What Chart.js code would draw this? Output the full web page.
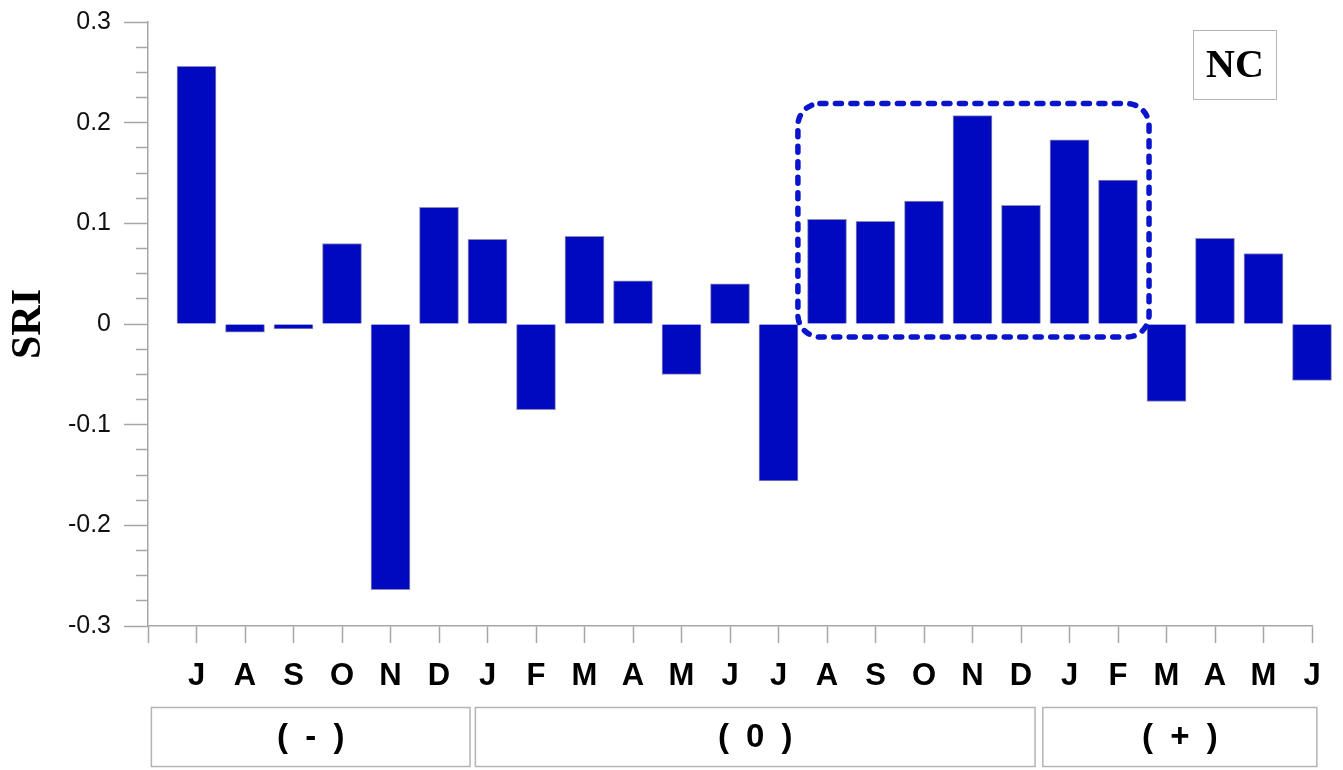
<!DOCTYPE html>
<html>
<head>
<meta charset="utf-8">
<script src="https://cdn.jsdelivr.net/npm/chart.js@4.4.1/dist/chart.umd.min.js"></script>
<style>
  html, body { margin: 0; padding: 0; background: #ffffff; }
  #wrap { width: 1343px; height: 770px; position: relative; }
</style>
</head>
<body>
<div id="wrap"><canvas id="c" width="1343" height="770"></canvas></div>
<script>
// Monthly categories (July to the following June, two years)
const months = ['J','A','S','O','N','D','J','F','M','A','M','J','J','A','S','O','N','D','J','F','M','A','M','J'];
// SRI value per month
const sri = [0.256, -0.008, -0.005, 0.080, -0.264, 0.116, 0.084, -0.085, 0.087, 0.043, -0.050, 0.040,
             -0.156, 0.104, 0.102, 0.122, 0.207, 0.118, 0.183, 0.143, -0.077, 0.085, 0.070, -0.056];
// Phase groups shown under the month axis
const phaseNames = ['( - )', '( 0 )', '( + )'];
const phaseFirst = [0, 6, 18];
const phaseLast = [5, 17, 23];
// Months enclosed by the dashed frame
const frameFirst = 13;
const frameLast = 19;
// Panel tag
const panelTag = 'NC';
// Axis range
const yMin = -0.3, yMax = 0.3, yMinorStep = 0.025;

// A blank leading slot keeps the first bar away from the value axis
const labels = [''].concat(months);
const values = [null].concat(sri);

const BAR_BLUE = '#0008c0';
const AXIS_GREY = '#a6a6a6';
const NARROW = "'Liberation Sans Narrow', 'Arial Narrow', 'Liberation Sans', Arial, sans-serif";

function isMajor(v) {
  return Math.abs(v * 10 - Math.round(v * 10)) < 1e-6;
}

const decorations = {
  id: 'decorations',
  afterDatasetsDraw(chart, args, opts) {
    const ctx = chart.ctx;
    const xs = chart.scales.x, ys = chart.scales.y;
    const step = xs.getPixelForValue(2) - xs.getPixelForValue(1);

    // dashed rounded frame around the highlighted months
    const inFrame = sri.slice(frameFirst, frameLast + 1);
    const left = xs.getPixelForValue(frameFirst + 1) - opts.framePadLeft * step;
    const right = xs.getPixelForValue(frameLast + 1) + opts.framePadRight * step;
    const top = ys.getPixelForValue(Math.max.apply(null, inFrame)) - opts.framePadTop;
    const bottom = ys.getPixelForValue(0) + opts.framePadBottom;
    ctx.save();
    ctx.strokeStyle = '#0a14cc';
    ctx.lineWidth = 5.5;
    ctx.lineCap = 'round';
    ctx.setLineDash([6, 9.5]);
    ctx.beginPath();
    ctx.roundRect(left, top, right - left, bottom - top, 22);
    ctx.stroke();
    ctx.restore();
  },
  afterDraw(chart, args, opts) {
    const ctx = chart.ctx;
    const xs = chart.scales.x;

    // phase boxes below the month labels
    ctx.save();
    ctx.strokeStyle = '#b4b4b4';
    ctx.lineWidth = 1.5;
    ctx.fillStyle = '#000';
    ctx.font = 'bold 33px ' + NARROW;
    ctx.letterSpacing = '4px';
    ctx.textAlign = 'center';
    ctx.textBaseline = 'middle';
    phaseNames.forEach((name, i) => {
      const l = xs.getPixelForValue(phaseFirst[i] + 1 + opts.phaseEdges[i][0]);
      const r = xs.getPixelForValue(phaseLast[i] + 1 + opts.phaseEdges[i][1]);
      ctx.strokeRect(l, opts.phaseTop, r - l, opts.phaseHeight);
      ctx.fillText(name, (l + r) / 2 + 2, opts.phaseTop + opts.phaseHeight / 2 + 1);
    });
    ctx.restore();

    // panel tag box
    ctx.save();
    ctx.strokeStyle = '#b4b4b4';
    ctx.lineWidth = 1;
    ctx.strokeRect(1193.5, 30.5, 83, 69);
    ctx.fillStyle = '#000';
    ctx.font = "bold 40px 'Liberation Serif', 'Times New Roman', serif";
    ctx.textAlign = 'center';
    ctx.textBaseline = 'middle';
    ctx.fillText(panelTag, 1235, 67);
    ctx.restore();
  }
};

new Chart(document.getElementById('c'), {
  type: 'bar',
  data: {
    labels: labels,
    datasets: [{
      data: values,
      backgroundColor: BAR_BLUE,
      borderColor: '#8c8cb4',
      borderWidth: 1,
      barThickness: 39,
      clip: false
    }]
  },
  options: {
    responsive: false,
    animation: false,
    devicePixelRatio: 1,
    layout: { padding: { top: 22, right: 31, left: 0, bottom: 0 } },
    plugins: {
      legend: { display: false },
      tooltip: { enabled: false },
      decorations: {
        framePadLeft: 0.6,
        framePadRight: 0.64,
        framePadTop: 12,
        framePadBottom: 13,
        phaseTop: 707.5,
        phaseHeight: 59,
        phaseEdges: [[-0.93, 0.64], [-0.25, 0.29], [-0.55, 0.1]]
      }
    },
    scales: {
      x: {
        type: 'category',
        offset: false,
        grid: {
          display: true,
          offset: false,
          drawOnChartArea: false,
          drawTicks: true,
          tickLength: 17,
          tickColor: AXIS_GREY,
          tickWidth: 1.5
        },
        border: { display: true, color: AXIS_GREY, width: 1.5 },
        ticks: {
          autoSkip: false,
          maxRotation: 0,
          minRotation: 0,
          padding: 15,
          color: '#000',
          font: { family: NARROW, size: 31, weight: 'bold' }
        },
        afterFit(scale) { scale.height = 144; }
      },
      y: {
        min: yMin,
        max: yMax,
        grid: {
          display: true,
          drawOnChartArea: false,
          drawTicks: true,
          tickLength: 24,
          tickColor: AXIS_GREY,
          tickWidth: 1.5,
          tickBorderDash: (c) => (c.tick && isMajor(c.tick.value)) ? [] : [0, 12, 12, 0]
        },
        border: { display: true, color: AXIS_GREY, width: 1.5 },
        ticks: {
          stepSize: yMinorStep,
          autoSkip: false,
          padding: 13,
          color: '#111',
          font: { family: "'Liberation Sans', Arial, sans-serif", size: 25, lineHeight: 0.6 },
          callback: (v) => {
            if (!isMajor(v)) return '';
            const r = Math.round(v * 10) / 10;
            return r === 0 ? '0' : r.toFixed(1);
          }
        },
        title: {
          display: true,
          text: 'SRI',
          color: '#000',
          padding: { top: 4, bottom: 0 },
          font: { family: "'Liberation Serif', 'Times New Roman', serif", size: 42, weight: 'bold' }
        },
        afterFit(scale) { scale.width = 148; }
      }
    }
  },
  plugins: [decorations]
});
</script>
</body>
</html>
